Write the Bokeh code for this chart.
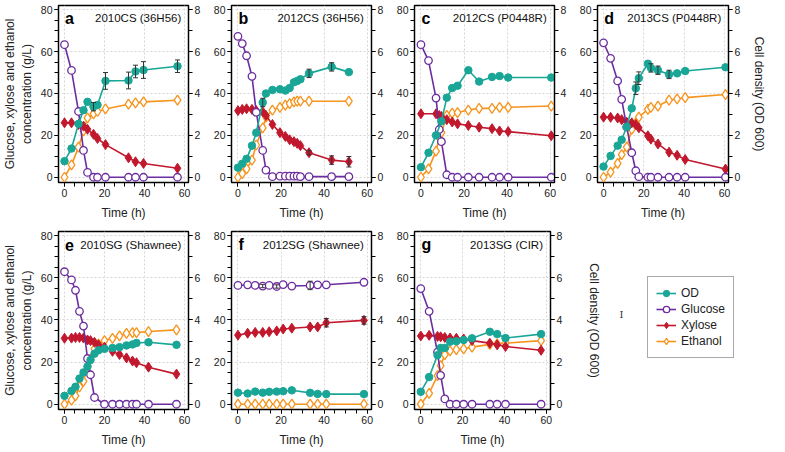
import numpy as np
from bokeh.plotting import figure
from bokeh.models import (Range1d, LinearAxis, FixedTicker, Label, Legend, LegendItem,
                          Whisker, ColumnDataSource, TeeHead)
from bokeh.layouts import row, column
from bokeh.embed import file_html
from bokeh.resources import INLINE

FONT = "Liberation Sans"
nan = float("nan")

# ---------------- data ----------------
# panel a: 2010CS (36H56)
a_t = [0, 3.5, 7, 9.5, 11.5, 14.5, 16.5, 20.5, 32, 35.5, 39.5, 56.5]
a_od = [0.77, 1.37, 2.55, 3.2, 3.6, 3.37, 3.45, 4.6, 4.62, 5.05, 5.12, 5.3]
a_od_err = [0, 0, 0, 0, 0, 0.2, 0, 0.4, 0.4, 0.3, 0.4, 0.3]
a_glu = [63.3, 51, 31.4, 12.8, 2.3, 0, 0, 0, 0, 0, 0, 0]
a_xyl = [26, 26, 25.2, 24.4, 22.9, 20.5, 18.5, 15.6, 9.3, 7.4, 6.6, 4.3]
a_eth = [0, 5.9, 14.4, 22.1, 28.3, 30.3, 31.4, 32.6, 34.9, 35.5, 36, 36.8]

# panel b: 2012CS (36H56)
b_t = [0, 2, 4, 6.5, 8.5, 11.5, 13, 16, 19.5, 22, 24, 26, 27.5, 29, 33, 43.5, 51.5]
b_od = [0.46, 0.65, 0.88, 1.51, 2.13, 3.57, 4.0, 4.17, 4.2, 4.14, 4.26, 4.53, 4.6, 4.68, 4.96, 5.27, 5.02]
b_od_err = [0, 0, 0, 0, 0, 0.2, 0, 0, 0, 0, 0, 0, 0, 0, 0.2, 0.2, 0]
b_glu = [67.3, 63.8, 58, 48.2, 31, 12.8, 3.4, 0.3, 0.5, 0.5, 0.5, 0.5, 0.5, 0.3, 0.3, 0.3, 0.3]
b_xyl = [31.8, 32.4, 32.7, 32.4, 31.8, 31.3, 29.5, 25.2, 21.3, 19.5, 17.9, 17.0, 16.2, 15.1, 11.7, 8.2, 7.4]
b_xyl_err = [0, 0, 0, 0, 0, 0, 0, 0, 0, 0, 0, 0, 0, 0, 1.0, 2.0, 2.5]
b_eth = [0, 1.7, 4, 8.2, 15.4, 23.6, 28.7, 32.1, 33.4, 34.4, 35.2, 36, 36.3, 36.3, 36.3, nan, 36.3]

# panel c: 2012CS (P0448R)
c_t = [0, 3.5, 7, 8.5, 9.5, 12, 14.5, 17, 22, 27, 33, 36.5, 40.5, 60.5]
c_od = [0.48, 1.17, 2.0, nan, 2.67, 3.8, 4.26, 4.37, 5.11, 4.57, 4.79, 4.83, 4.76, 4.76]
c_glu = [63.3, 55.7, 37.8, 22.8, 17, 1.2, 0, 0, 0, 0, 0, 0, 0, 0]
c_xyl = [30.3, nan, 30.3, 29.5, 29, 27.5, 26.4, 25.5, 24.7, 23.9, 23.2, 22.1, 21.8, 19.8]
c_eth = [0, 4, 12.5, 19, 21.3, 29.5, 30.6, 30.9, 32.1, 32.9, 32.9, 33.4, 33.4, 34]

# panel d: 2013CS (P0448R)
d_t = [0, 3.5, 7, 9, 11.5, 14, 16, 17.5, 22, 23.5, 27, 32.5, 36.5, 40.5, 60.5]
d_od = [0.51, 1.02, 1.51, 1.79, 2.41, 3.29, 4.25, 4.73, 5.42, 5.22, 5.11, 4.91, 4.96, 5.07, 5.25]
d_od_err = [0, 0, 0, 0, 0, 0, 0.3, 0.3, 0, 0.2, 0.2, 0.2, 0, 0, 0]
d_glu = [64.2, 56.8, 46, 37.2, 24, 11.7, 3.1, 0.3, 0, 0, 0, 0, 0, 0, 0]
d_xyl = [28.7, 28.6, 28.3, 27.5, 26.3, 26, 25.2, 23.6, 19.8, 18.2, 15.9, 12, 10.5, 8.5, 3.9]
d_eth = [0, 2.5, 6.6, 10.8, 14.4, 22.9, 25.9, 28.7, 32.4, 33.4, 34, 36.8, 37.4, 38, 39.5]

# panel e: 2010SG (Shawnee)
e_t = [0, 3.5, 5.5, 7.5, 9.5, 11.5, 13, 15, 17, 20, 24, 27.5, 31, 34, 36, 42, 56]
e_od = [0.4, 0.63, 0.83, 1.22, 1.51, 1.79, 2.1, 2.4, 2.56, 2.63, 2.67, 2.71, 2.79, 2.84, 2.91, 2.94, 2.82]
e_glu = [62.9, 59, 54.1, 44.1, 37.1, 21.7, 14, 3.2, nan, 0, 0, 0, 0, 0, 0, 0, 0]
e_xyl = [31.3, 31.4, 31.7, 31.7, 31.4, 30.5, 30.2, 29.4, 28.2, 27.1, 25.1, 23.6, 22, 20.5, 19.7, 17.6, 14.3]
e_eth = [0, 2, 4, 8.2, 10.9, 17.9, 21.3, 26.3, 28.5, 30.2, 31.3, 32.5, 33.6, 34, 34, 34.5, 35.3]

# panel f: 2012SG (Shawnee)
f_t = [0, 4.5, 8, 11.5, 14.5, 18, 21, 25, 33.5, 37, 41, 58.5]
f_od = [0.55, 0.51, 0.6, 0.55, 0.59, 0.6, 0.62, 0.66, 0.54, 0.49, 0.48, 0.48]
f_glu = [56.4, 56.7, 56.4, 56.1, 56.4, 55.9, 56.8, 56.1, 56.4, 56.7, 56.7, 57.9]
f_glu_err = [0, 0, 0, 0.8, 0, 0.8, 0, 0, 2.0, 0, 0, 0]
f_xyl = [32.8, 33.7, 34.1, 34.1, 34.4, 34.8, 35.7, 36.1, 36.7, 36.7, 38.7, 39.8]
f_xyl_err = [0, 0, 0, 0, 0, 0, 0, 0, 0, 0, 2.0, 1.8]
f_eth = [0, 0, 0, 0, 0, 0, 0, 0, 0, 0, 0, 0]

# panel g: 2013SG (CIR)
g_t = [0, 4, 8, 9.5, 11.5, 14, 17, 20.5, 24.5, 33, 36.5, 40.5, 57.5]
g_od = [0.59, 1.29, 2.33, 2.67, 2.67, 2.97, 2.99, 3.05, 3.13, 3.44, 3.33, 3.14, 3.33]
g_glu = [54.9, 44.1, 24.8, 13.7, 2.5, 0, 0, 0, 0, 0, 0, 0, 0]
g_xyl = [32.4, 32.7, 32.2, 32, 31.7, 31.4, 31.3, 31, 30.2, 29, 28.2, 27.4, 25.6]
g_eth = [0, 5.2, 13.6, 18.3, 23.6, 25.3, 25.9, 26.3, 27.1, 28.4, 28.7, 29, 30.2]

x_ticks = [0, 20, 40, 60]
y_ticks = [0, 20, 40, 60, 80]
od_ticks = [0, 2, 4, 6, 8]
series_names = ["OD", "Glucose", "Xylose", "Ethanol"]

# ---------------- styling ----------------
C_OD, C_GLU, C_XYL, C_ETH = "#1aa697", "#6b2d9f", "#c1182d", "#f7941d"
LW = 1.6
FW = 140
Y_LO, Y_HI = -2.5, 82
X_LO, X_HI = -3, 62
LEFT_LABEL = "Glucose, xylose and ethanol\nconcentration (g/L)"
RIGHT_LABEL = "Cell density (OD 600)"


def clean(t, v):
    t = np.asarray(t, float)
    v = np.asarray(v, float)
    m = ~np.isnan(v)
    return t[m], v[m]


def add_err(p, t, v, err, range_name=None):
    t = np.asarray(t, float); v = np.asarray(v, float); e = np.asarray(err, float)
    m = e > 0
    src = ColumnDataSource(dict(x=t[m], lo=v[m] - e[m], hi=v[m] + e[m]))
    kw = {"y_range_name": range_name} if range_name else {}
    w = Whisker(source=src, base="x", lower="lo", upper="hi", line_color="#333333",
                line_width=1, level="glyph",
                upper_head=TeeHead(size=5, line_color="#333333", line_width=1),
                lower_head=TeeHead(size=5, line_color="#333333", line_width=1), **kw)
    p.add_layout(w)


def style_axis(ax):
    ax.axis_line_color = "black"
    ax.axis_line_width = 1.2
    ax.major_tick_line_color = "black"
    ax.minor_tick_line_color = "black"
    ax.major_tick_in = 0
    ax.minor_tick_in = 0
    ax.major_tick_out = 4
    ax.minor_tick_out = 4
    ax.major_label_standoff = 2
    ax.major_label_text_font = FONT
    ax.major_label_text_font_size = "10.5px"
    ax.major_label_text_color = "#222222"
    ax.axis_label_text_font = FONT
    ax.axis_label_text_font_size = "12px"
    ax.axis_label_text_font_style = "normal"
    ax.axis_label_text_color = "#222222"


def draw_series(p, t, od, glu, xyl, eth):
    rend = {}
    x, y = clean(t, eth)
    l = p.line(x, y, line_color=C_ETH, line_width=LW)
    s = p.scatter(x, y, marker="diamond", size=10, fill_color="white", line_color=C_ETH, line_width=1.3)
    rend["Ethanol"] = [l, s]
    x, y = clean(t, xyl)
    l = p.line(x, y, line_color=C_XYL, line_width=LW)
    s = p.scatter(x, y, marker="diamond", size=10, fill_color=C_XYL, line_color=C_XYL)
    rend["Xylose"] = [l, s]
    x, y = clean(t, glu)
    l = p.line(x, y, line_color=C_GLU, line_width=LW)
    s = p.scatter(x, y, marker="circle", size=7.5, fill_color="white", line_color=C_GLU, line_width=1.3)
    rend["Glucose"] = [l, s]
    x, y = clean(t, od)
    l = p.line(x, y, line_color=C_OD, line_width=LW, y_range_name="od")
    s = p.scatter(x, y, marker="circle", size=7.5, fill_color=C_OD, line_color=C_OD, y_range_name="od")
    rend["OD"] = [l, s]
    return rend


def panel(t, od, glu, xyl, eth, letter, title, bl, br, bt, fh, bb,
          left_label=None, right_label=None, right_standoff=9,
          od_err=None, glu_err=None, xyl_err=None):
    p = figure(width=bl + FW + br, height=bt + fh + bb,
               x_range=Range1d(X_LO, X_HI), y_range=Range1d(Y_LO, Y_HI),
               output_backend="svg", toolbar_location=None,
               min_border_left=bl, min_border_right=br,
               min_border_top=bt, min_border_bottom=bb)
    p.extra_y_ranges = {"od": Range1d(Y_LO / 10, Y_HI / 10)}
    p.outline_line_color = "black"
    p.outline_line_width = 1.3
    p.outline_line_alpha = 1

    p.xaxis.ticker = FixedTicker(ticks=x_ticks, minor_ticks=list(range(0, 61, 5)))
    p.yaxis.ticker = FixedTicker(ticks=y_ticks, minor_ticks=list(range(0, 81, 5)))
    style_axis(p.xaxis[0])
    style_axis(p.yaxis[0])
    p.xaxis.axis_label = "Time (h)"
    p.xaxis.axis_label_standoff = 6
    if left_label:
        p.yaxis.axis_label = left_label
        p.yaxis.axis_label_standoff = 4

    rax = LinearAxis(y_range_name="od",
                     ticker=FixedTicker(ticks=od_ticks, minor_ticks=list(range(0, 9))))
    style_axis(rax)
    if right_label:
        rax.axis_label = right_label
        rax.axis_label_standoff = right_standoff
    p.add_layout(rax, "right")

    for gr in (p.xgrid[0], p.ygrid[0]):
        gr.grid_line_color = "#d6d6d6"
        gr.grid_line_dash = "2 2"
        gr.grid_line_width = 1

    if od_err is not None:
        add_err(p, t, od, od_err, "od")
    if glu_err is not None:
        add_err(p, t, glu, glu_err)
    if xyl_err is not None:
        add_err(p, t, xyl, xyl_err)

    draw_series(p, t, od, glu, xyl, eth)

    p.add_layout(Label(x=0.3, y=Y_HI - 6.2, text=letter, text_font=FONT, text_font_style="bold",
                       text_font_size="16px", text_baseline="middle", text_align="left",
                       text_color="black"))
    p.add_layout(Label(x=X_HI - 3.6, y=Y_HI - 6.2, text=title, text_font=FONT,
                       text_font_size="11.5px", text_baseline="middle", text_align="right",
                       text_color="#111111"))
    return p


# top row
TB, TF, TBB = 5, 177, 40
pa = panel(a_t, a_od, a_glu, a_xyl, a_eth, "a", "2010CS (36H56)", 48, 20, TB, TF, TBB,
           left_label=LEFT_LABEL, od_err=a_od_err)
pb = panel(b_t, b_od, b_glu, b_xyl, b_eth, "b", "2012CS (36H56)", 23, 20, TB, TF, TBB,
           od_err=b_od_err, xyl_err=b_xyl_err)
pc = panel(c_t, c_od, c_glu, c_xyl, c_eth, "c", "2012CS (P0448R)", 23, 20, TB, TF, TBB)
pd = panel(d_t, d_od, d_glu, d_xyl, d_eth, "d", "2013CS (P0448R)", 23, 32, TB, TF, TBB,
           right_label=RIGHT_LABEL, od_err=d_od_err)

# bottom row
BT, BF, BB = 9, 180, 38
G_BR = 50
pe = panel(e_t, e_od, e_glu, e_xyl, e_eth, "e", "2010SG (Shawnee)", 48, 20, BT, BF, BB,
           left_label=LEFT_LABEL)
pf = panel(f_t, f_od, f_glu, f_xyl, f_eth, "f", "2012SG (Shawnee)", 23, 20, BT, BF, BB,
           glu_err=f_glu_err, xyl_err=f_xyl_err)
pg = panel(g_t, g_od, g_glu, g_xyl, g_eth, "g", "2013SG (CIR)", 23, G_BR, BT, BF, BB,
           right_label=RIGHT_LABEL, right_standoff=22)

# legend panel: its own plot whose visible window lies away from the (repeated) series
LWID, LHEI = 777 - 8 - 208 - 183 - (23 + FW + G_BR), BT + BF + BB
OFF = 200
pl = figure(width=LWID, height=LHEI, x_range=Range1d(OFF, OFF + LWID),
            y_range=Range1d(OFF, OFF + LHEI),
            x_axis_type=None, y_axis_type=None, output_backend="svg", toolbar_location=None,
            min_border_left=0, min_border_right=0, min_border_top=0, min_border_bottom=0)
pl.extra_y_ranges = {"od": Range1d(OFF, OFF + LHEI)}
pl.outline_line_color = None
pl.grid.visible = False
lrend = draw_series(pl, g_t, g_od, g_glu, g_xyl, g_eth)
items = [LegendItem(label=name, renderers=lrend[name]) for name in series_names]
leg = Legend(items=items, location=(43, LHEI - 176), label_text_font=FONT,
             label_text_font_size="12px",
             label_text_color="#222222", glyph_width=20, glyph_height=16, label_height=16,
             spacing=0, padding=8, margin=0, border_line_color="#555555", border_line_width=1,
             label_standoff=5, background_fill_alpha=1)
pl.add_layout(leg)
pl.add_layout(Label(x=OFF + 17, y=OFF + LHEI - 106, text="I", text_font="DejaVu Serif",
                    text_font_size="10px", text_align="center", text_baseline="middle",
                    text_color="#333333"))

layout = column(row(pa, pb, pc, pd), row(pe, pf, pg, pl))
open("out.html", "w").write(file_html(layout, INLINE))
